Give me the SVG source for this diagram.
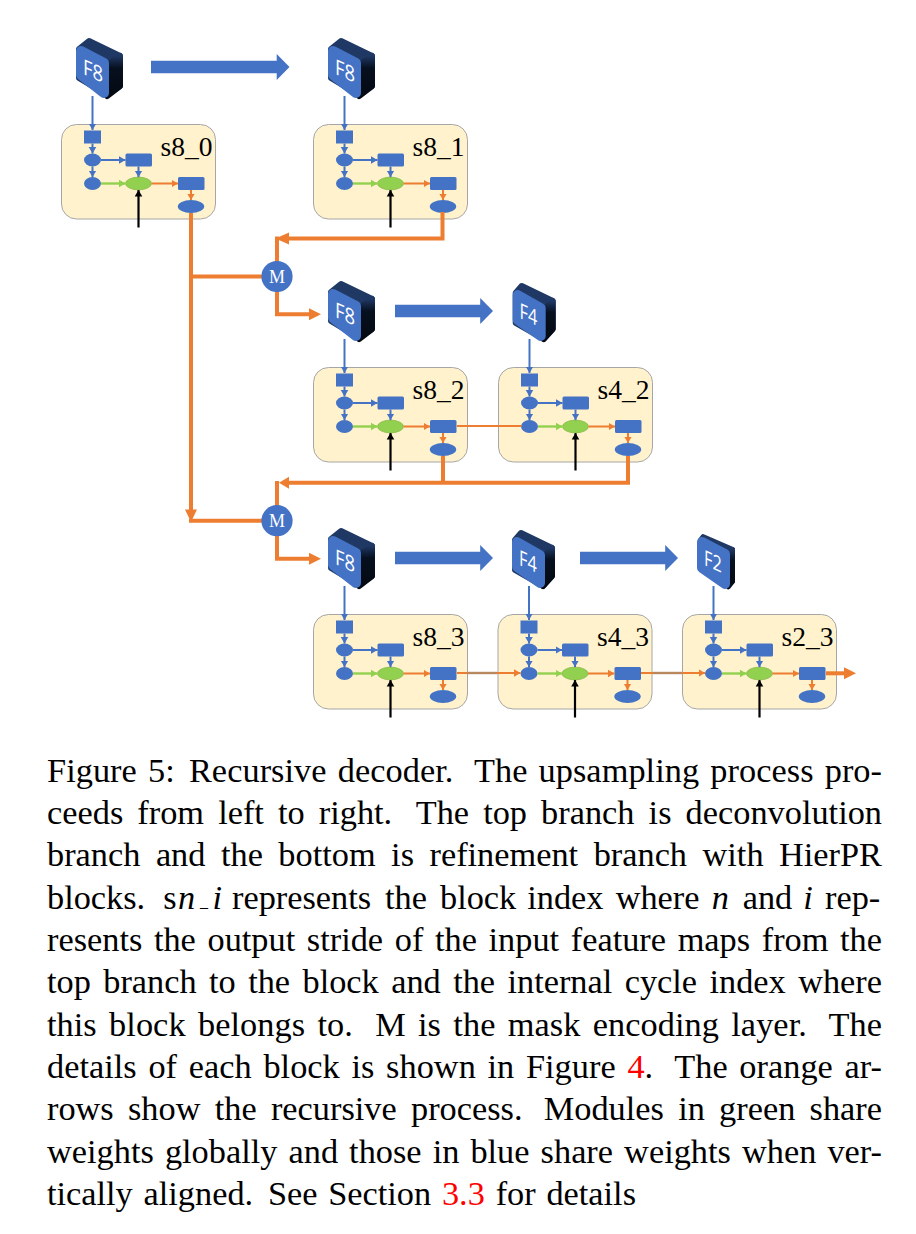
<svg xmlns="http://www.w3.org/2000/svg" xmlns:xlink="http://www.w3.org/1999/xlink" width="916" height="1234" viewBox="0 0 916 1234">
<style>
.box{fill:#FFF2CC;stroke:#A6A6A6;stroke-width:1}
.bl{fill:#4472C4}
.lb{stroke:#4472C4;stroke-width:2;fill:none}
.lg{stroke:#92D050;stroke-width:2.4;fill:none}
.lo{stroke:#ED7D31;stroke-width:2;fill:none}
.lk{stroke:#000;stroke-width:2.2;fill:none}
.th{stroke:#ED7D31;stroke-width:4;fill:none}
.label{font-family:"Liberation Serif","Times New Roman",serif;font-size:27.5px;fill:#000}
.m{font-family:"Liberation Serif","Times New Roman",serif;font-size:18px;fill:#fff;text-anchor:middle}
.f{font-family:"Open Sans","Noto Sans",sans-serif;font-size:21.5px;fill:#fff}
.cap{font-family:"Liberation Serif","Times New Roman",serif;font-size:34.3px;fill:#000}
.big{fill:#4472C4}
.ho{fill:#ED7D31}
</style>
<defs>
<linearGradient id="side" x1="0" y1="0" x2="0" y2="1"><stop offset="0" stop-color="#1F3864"/><stop offset=".3" stop-color="#07101F"/><stop offset="1" stop-color="#050A12"/></linearGradient>
<marker id="ab" markerUnits="userSpaceOnUse" markerWidth="8" markerHeight="9" refX="6.5" refY="4.5" orient="auto"><path d="M0,.7L6.5,4.5L0,8.3z" fill="#4472C4"/></marker>
<marker id="ag" markerUnits="userSpaceOnUse" markerWidth="8" markerHeight="9" refX="6.5" refY="4.5" orient="auto"><path d="M0,.7L6.5,4.5L0,8.3z" fill="#92D050"/></marker>
<marker id="ao" markerUnits="userSpaceOnUse" markerWidth="8" markerHeight="9" refX="6.5" refY="4.5" orient="auto"><path d="M0,.7L6.5,4.5L0,8.3z" fill="#ED7D31"/></marker>
<marker id="ak" markerUnits="userSpaceOnUse" markerWidth="8" markerHeight="9" refX="6.5" refY="4.5" orient="auto"><path d="M0,.7L6.5,4.5L0,8.3z" fill="#000"/></marker>
<g id="block">
<rect class="box" x="0" y="0" width="154" height="94.5" rx="15"/>
<rect class="bl" x="22.5" y="6" width="17" height="13"/>
<ellipse class="bl" cx="31" cy="35.5" rx="8.5" ry="6.4"/>
<rect class="bl" x="64" y="29" width="26.5" height="13" rx="1.5"/>
<ellipse class="bl" cx="31" cy="59" rx="8.5" ry="6.4"/>
<ellipse cx="77" cy="59" rx="13" ry="6.4" fill="#92D050" stroke="#7FB23F" stroke-width=".6"/>
<rect class="bl" x="116.5" y="52.5" width="26.5" height="13" rx="1.5"/>
<ellipse class="bl" cx="129.5" cy="82" rx="13.2" ry="6.4"/>
<path class="lb" marker-end="url(#ab)" d="M31,19V29"/>
<path class="lb" marker-end="url(#ab)" d="M31,42V52.6"/>
<path class="lb" marker-end="url(#ab)" d="M39.5,35.5H64"/>
<path class="lb" marker-end="url(#ab)" d="M77,42V52.6"/>
<path class="lg" marker-end="url(#ag)" d="M39.5,59H64"/>
<path class="lo" marker-end="url(#ao)" d="M90,59H116.5"/>
<path class="lo" marker-end="url(#ao)" d="M129.5,65.5V75.6"/>
<path class="lk" marker-end="url(#ak)" d="M77,103V65.6"/>
</g>
<g id="cube8">
<path d="M3,11L13,3L44,18V48L31,57L3,40z" fill="#1F3864" stroke="#1F3864" stroke-width="6" stroke-linejoin="round"/>
<path d="M31,27L44,18V48L31,58z" fill="url(#side)" stroke="url(#side)" stroke-width="6" stroke-linejoin="round"/>
<path d="M5,13L28,25V55L5,37z" class="bl" stroke="#4472C4" stroke-width="10" stroke-linejoin="round"/>
</g>
<g id="cube4">
<path d="M3,10L9,3L40,18V46L31,56L3,40z" fill="#1F3864" stroke="#1F3864" stroke-width="6" stroke-linejoin="round"/>
<path d="M31,27L40,18V46L31,56z" fill="url(#side)" stroke="url(#side)" stroke-width="6" stroke-linejoin="round"/>
<path d="M5,12L28,25V53L5,37z" class="bl" stroke="#4472C4" stroke-width="10" stroke-linejoin="round"/>
</g>
<g id="cube2">
<path d="M3,7L6,3L36,16V48L32,54L3,36z" fill="#1F3864" stroke="#1F3864" stroke-width="4" stroke-linejoin="round"/>
<path d="M31,22L36.5,16V49L31,55z" fill="url(#side)" stroke="url(#side)" stroke-width="3" stroke-linejoin="round"/>
<path d="M5,9L28,21V51L5,35z" class="bl" stroke="#4472C4" stroke-width="10" stroke-linejoin="round"/>
</g>
</defs>
<rect width="916" height="1234" fill="#fff"/>
<g id="node-s8_0"><use href="#block" x="61.5" y="124.5"/><text class="label" x="160.5" y="156">s8_0</text></g>
<g id="node-s8_1"><use href="#block" x="313.5" y="124.5"/><text class="label" x="412.5" y="156">s8_1</text></g>
<g id="node-s8_2"><use href="#block" x="313.5" y="367.5"/><text class="label" x="412.5" y="399">s8_2</text></g>
<g id="node-s4_2"><use href="#block" x="498.5" y="367.5"/><text class="label" x="597.5" y="399">s4_2</text></g>
<g id="node-s8_3"><use href="#block" x="313.5" y="614.5"/><text class="label" x="412.5" y="646">s8_3</text></g>
<g id="node-s4_3"><use href="#block" x="498" y="614.5"/><text class="label" x="597" y="646">s4_3</text></g>
<g id="node-s2_3"><use href="#block" x="682.5" y="614.5"/><text class="label" x="781.5" y="646">s2_3</text></g>
<g id="connectors">
<path class="lb" marker-end="url(#ab)" d="M92.5,96V130"/>
<path class="lb" marker-end="url(#ab)" d="M344.5,96V130"/>
<path class="lb" marker-end="url(#ab)" d="M344.5,339V373"/>
<path class="lb" marker-end="url(#ab)" d="M529.5,339V373"/>
<path class="lb" marker-end="url(#ab)" d="M344.5,586V620"/>
<path class="lb" marker-end="url(#ab)" d="M529,586V620"/>
<path class="lb" marker-end="url(#ab)" d="M713.5,586V620"/>
<path class="big" d="M151,60.7H276.7V54L289.5,67L276.7,80V73.3H151z"/>
<path class="big" d="M395,304.7H480.2V298L493,311L480.2,324V317.3H395z"/>
<path class="big" d="M395,551.7H480.2V545L493,558L480.2,571V564.3H395z"/>
<path class="big" d="M580,551.7H665.2V545L678,558L665.2,571V564.3H580z"/>
<path class="th" d="M191,213V510"/>
<path class="ho" d="M185,509.5H197L191,522z"/>
<path class="th" d="M189,276.5H262"/>
<path class="th" d="M189,520.7H262"/>
<path class="th" d="M442.5,212V238.5H289"/>
<path class="ho" d="M289,232.5V244.5L275.5,238.5z"/>
<path class="th" d="M277,236.5V262"/>
<path class="th" d="M277,290V314.3H310"/>
<path class="ho" d="M309,308.3V320.3L321,314.3z"/>
<path class="th" d="M443,456V482.7"/>
<path class="th" d="M628,456V482.7H289"/>
<path class="ho" d="M289,476.7V488.7L279,482.7z"/>
<path class="th" d="M277,481V506"/>
<path class="th" d="M277,535V558.7H310"/>
<path class="ho" d="M309,552.7V564.7L321,558.7z"/>
<path class="lo" d="M457,426H521.5"/>
<path class="lo" d="M457,673H467"/>
<path stroke="#B8885E" stroke-width="2.4" d="M467,673H497"/>
<path class="lo" marker-end="url(#ao)" d="M497,673H520.5"/>
<path class="lo" d="M641,673H653"/>
<path stroke="#B8885E" stroke-width="2.4" d="M653,673H682"/>
<path class="lo" marker-end="url(#ao)" d="M682,673H705"/>
<path class="th" d="M826,673.3H845"/>
<path class="ho" d="M844,667.3V679.3L856,673.3z"/>
</g>
<g id="node-M1"><circle class="bl" cx="277" cy="276.5" r="15.6"/><text class="m" x="277" y="282.5">M</text></g>
<g id="node-M2"><circle class="bl" cx="277" cy="520.7" r="15.6"/><text class="m" x="277" y="526.7">M</text></g>
<g id="node-F8-a"><use href="#cube8" x="76" y="38"/><text class="f" transform="translate(83,74) skewY(24) scale(.86,1)">F8</text></g>
<g id="node-F8-b"><use href="#cube8" x="328" y="38"/><text class="f" transform="translate(335,74) skewY(24) scale(.86,1)">F8</text></g>
<g id="node-F8-c"><use href="#cube8" x="328" y="281"/><text class="f" transform="translate(335,317) skewY(24) scale(.86,1)">F8</text></g>
<g id="node-F8-d"><use href="#cube8" x="328" y="528"/><text class="f" transform="translate(335,564) skewY(24) scale(.86,1)">F8</text></g>
<g id="node-F4-a"><use href="#cube4" x="512.7" y="283"/><text class="f" transform="translate(519.5,318) skewY(24) scale(.76,1)">F4</text></g>
<g id="node-F4-b"><use href="#cube4" x="512" y="530"/><text class="f" transform="translate(519,565) skewY(24) scale(.76,1)">F4</text></g>
<g id="node-F2"><use href="#cube2" x="697" y="533"/><text class="f" transform="translate(704,565) skewY(24) scale(.76,1)">F2</text></g>
<g id="caption">
<text class="cap" x="47" y="781.8" textLength="835" word-spacing="2.5">Figure 5: <tspan dx="3">Recursive decoder.</tspan> <tspan dx="10">The upsampling process pro-</tspan></text>
<text class="cap" x="47" y="824" textLength="835" word-spacing="5.5">ceeds from left to right. <tspan dx="10">The top branch is deconvolution</tspan></text>
<text class="cap" x="47" y="866.4" textLength="835" word-spacing="6.9">branch and the bottom is refinement branch with HierPR</text>
<text class="cap" y="908.7"><tspan x="47">blocks.</tspan><tspan x="163.3">s</tspan><tspan x="178" font-style="italic">n</tspan><tspan x="200" y="907" font-size="16">_</tspan><tspan x="212.5" y="908.7" font-style="italic">i</tspan><tspan x="232">represents</tspan><tspan x="385">the</tspan><tspan x="440">block</tspan><tspan x="527.3">index</tspan><tspan x="615.7">where</tspan><tspan x="711.7" font-style="italic">n</tspan><tspan x="742.7">and</tspan><tspan x="803.3" font-style="italic">i</tspan><tspan x="825">rep-</tspan></text>
<text class="cap" x="47" y="951" textLength="835" word-spacing="3.1">resents the output stride of the input feature maps from the</text>
<text class="cap" x="47" y="993.3" textLength="835" word-spacing="3.84">top branch to the block and the internal cycle index where</text>
<text class="cap" x="47" y="1035.6" textLength="835" word-spacing="3.7">this block belongs to. <tspan dx="10">M is the mask encoding layer.</tspan> <tspan dx="10">The</tspan></text>
<text class="cap" x="47" y="1077.9" textLength="835" word-spacing="3.1">details of each block is shown in Figure <tspan fill="#f00">4</tspan>. <tspan dx="10">The orange ar-</tspan></text>
<text class="cap" x="47" y="1120.2" textLength="835" word-spacing="5.7">rows show the recursive process. <tspan dx="7">Modules in green share</tspan></text>
<text class="cap" x="47" y="1162.5" textLength="835" word-spacing="2.47">weights globally and those in blue share weights when ver-</text>
<text class="cap" x="47" y="1204.8" textLength="589" word-spacing="2.2">tically aligned. <tspan dx="4">See Section</tspan> <tspan fill="#f00">3.3</tspan> for details</text>
</g>
</svg>
